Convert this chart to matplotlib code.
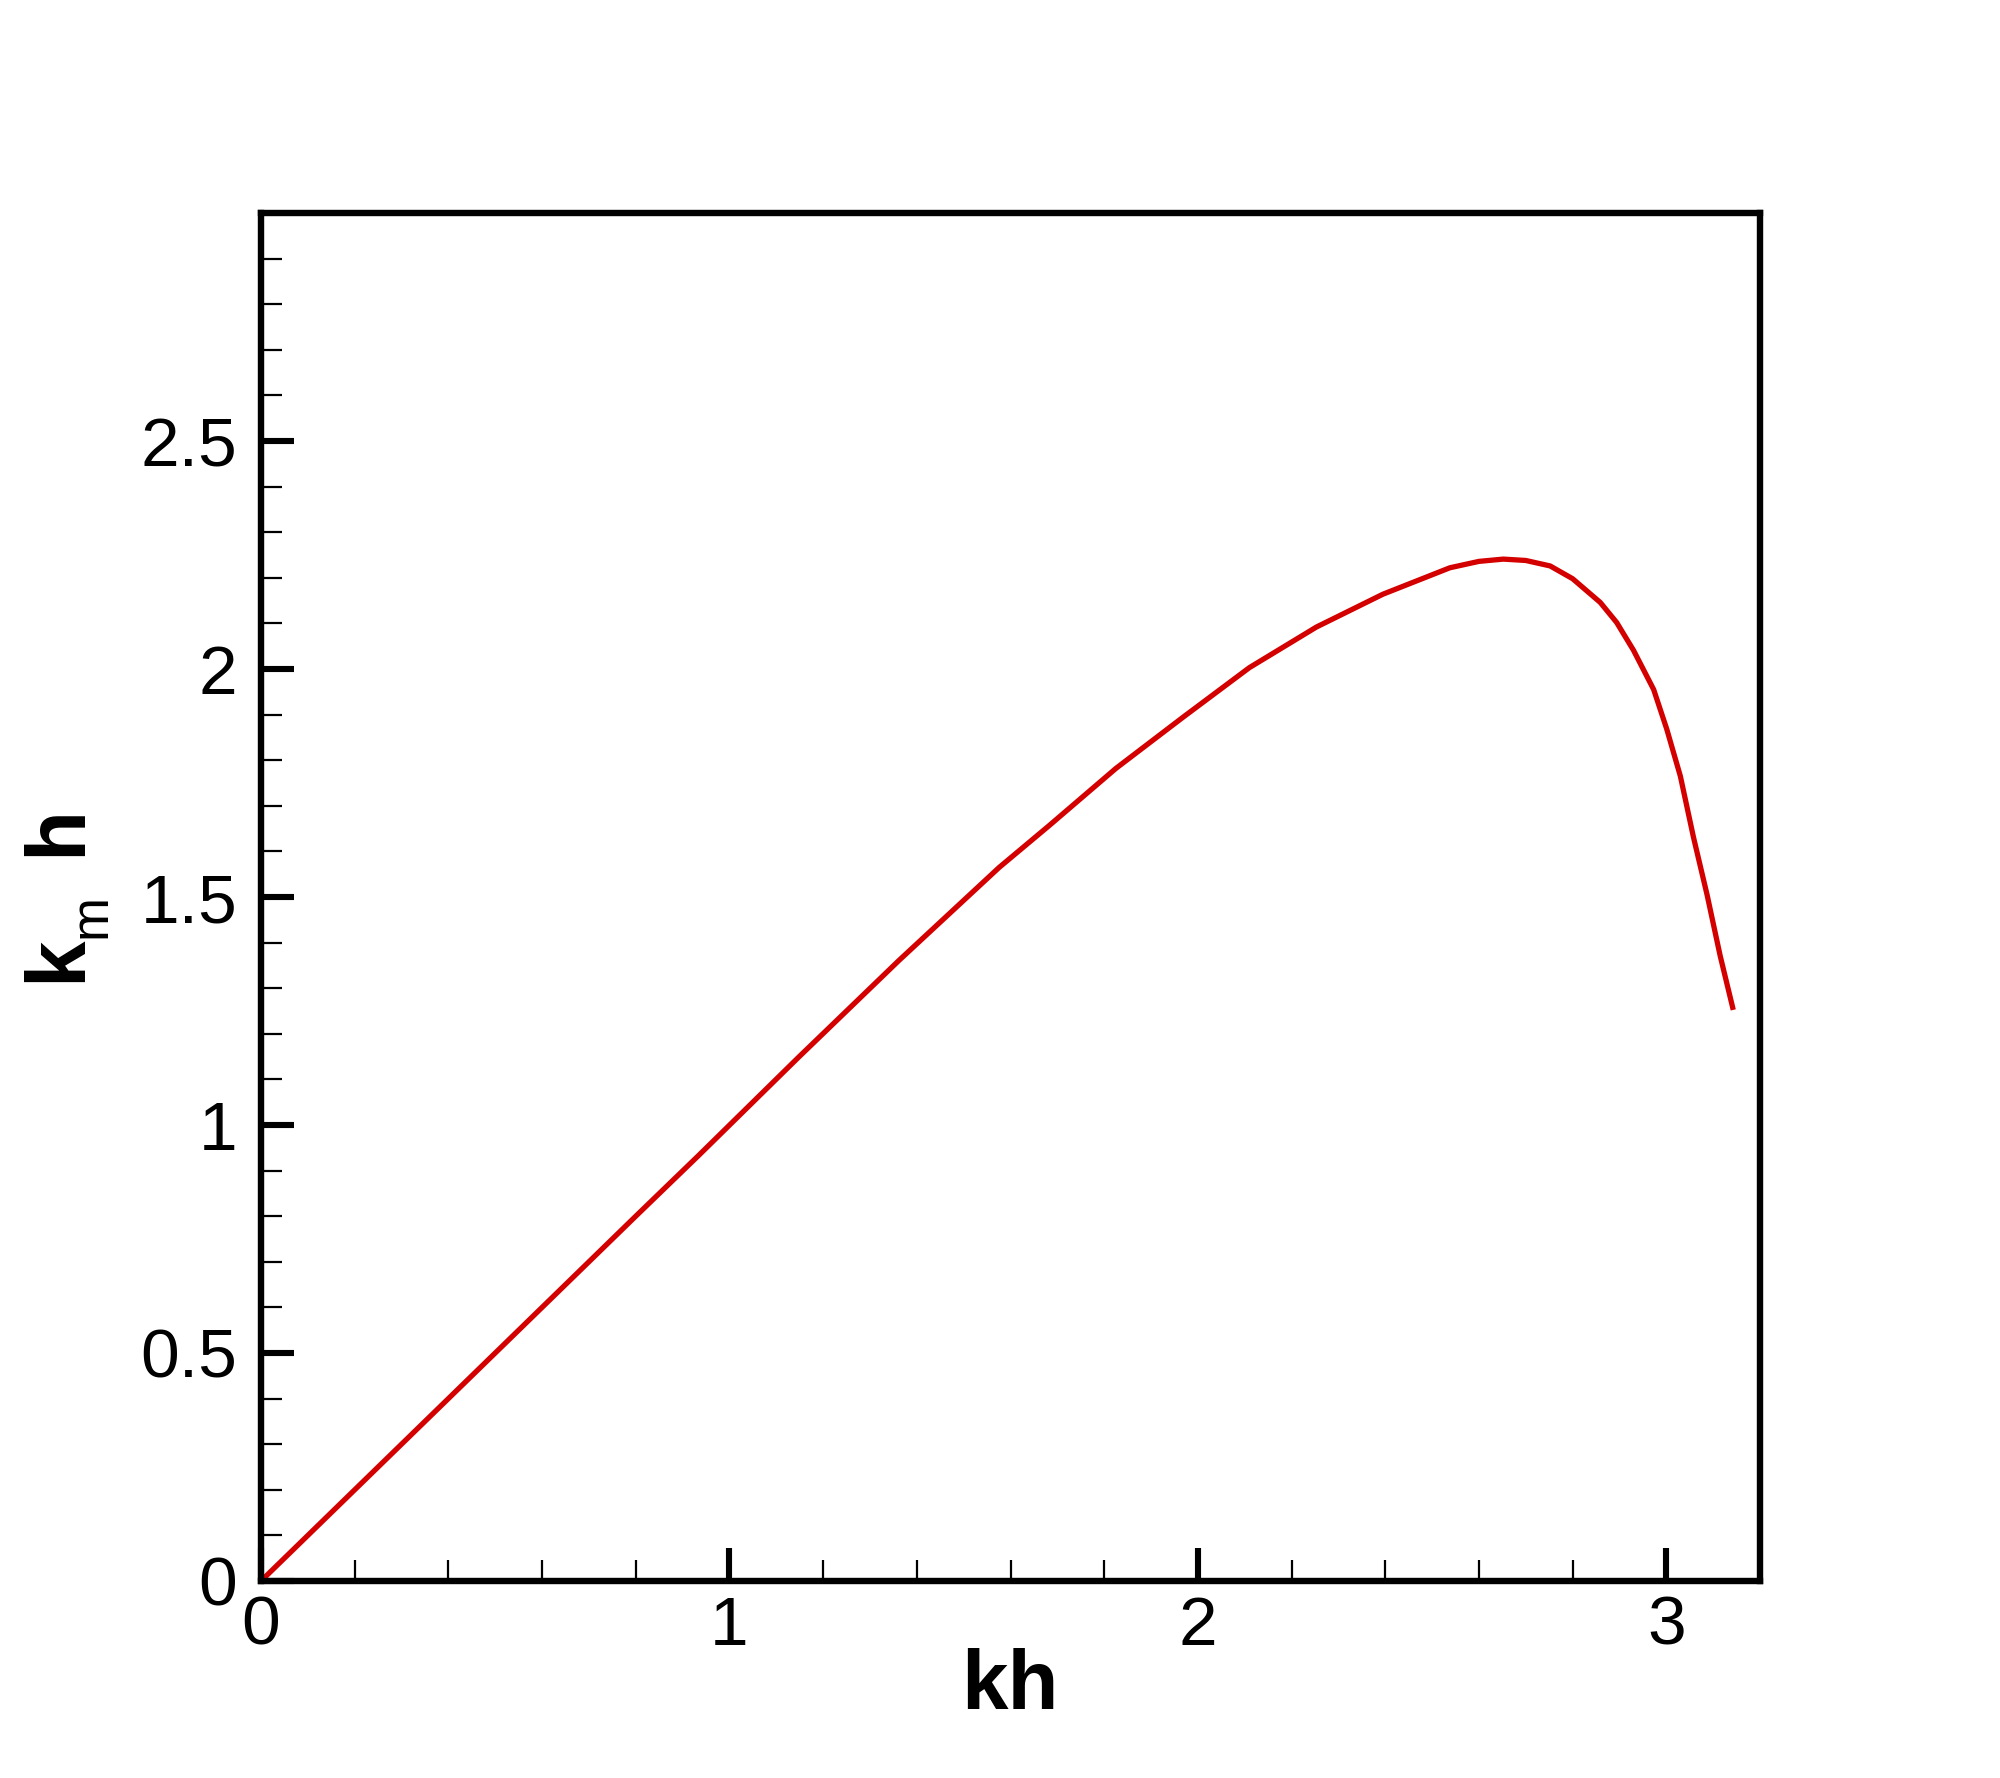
import matplotlib.pyplot as plt
from matplotlib.ticker import MultipleLocator, FuncFormatter

plt.rcParams["font.family"] = ["Liberation Sans", "DejaVu Sans"]

# values
kh = [0.0, 0.4, 0.8, 0.934, 1.148, 1.362, 1.576, 1.683, 1.825, 1.968, 2.110,
      2.253, 2.395, 2.538, 2.6, 2.652, 2.7, 2.752, 2.8, 2.859, 2.894, 2.930,
      2.973, 3.001, 3.030, 3.058, 3.087, 3.115, 3.1416]
kmh = [0.0, 0.4, 0.8, 0.933, 1.149, 1.361, 1.565, 1.657, 1.782, 1.894, 2.003,
       2.092, 2.164, 2.222, 2.236, 2.241, 2.238, 2.226, 2.198, 2.146, 2.102,
       2.041, 1.955, 1.868, 1.765, 1.631, 1.505, 1.371, 1.258]

W, H = 2000, 1778
fig = plt.figure(figsize=(W / 200, H / 200), dpi=200)
ax = fig.add_axes([0.1305, 0.1108, 0.7495, 0.7694])

ax.plot(kh, kmh, color="#d40000", lw=1.9)

ax.set_xlim(0, 3.2)
ax.set_ylim(0, 3)
ax.xaxis.set_major_locator(MultipleLocator(1))
ax.xaxis.set_minor_locator(MultipleLocator(0.2))
ax.yaxis.set_major_locator(MultipleLocator(0.5))
ax.yaxis.set_minor_locator(MultipleLocator(0.1))
fmt = FuncFormatter(lambda v, p: "%g" % v)
ax.xaxis.set_major_formatter(fmt)
ax.yaxis.set_major_formatter(fmt)
ax.set_yticks([0, 0.5, 1, 1.5, 2, 2.5])

for s in ax.spines.values():
    s.set_linewidth(2.3)
ax.tick_params(which="both", direction="in", top=False, right=False)
ax.tick_params(which="major", length=12, width=2.2, labelsize=25)
ax.tick_params(axis="x", which="major", pad=5)
ax.tick_params(axis="y", which="major", pad=8.5)
ax.tick_params(which="minor", length=7.5, width=0.8)

# axis titles
fig.text(0.505, 1 - 1709 / H, "kh", fontsize=30, fontweight="bold",
         ha="center", va="baseline")
ylab = dict(rotation=90, rotation_mode="anchor", ha="left", va="baseline")
fig.text(80 / W, 1 - 982 / H, "k", fontsize=30, fontweight="bold", **ylab)
fig.text(106 / W, 1 - 938 / H, "m", fontsize=19, **ylab)
fig.text(80 / W, 1 - 856 / H, "h", fontsize=30, fontweight="bold", **ylab)

fig.savefig("out.png", dpi=200, facecolor="white")
